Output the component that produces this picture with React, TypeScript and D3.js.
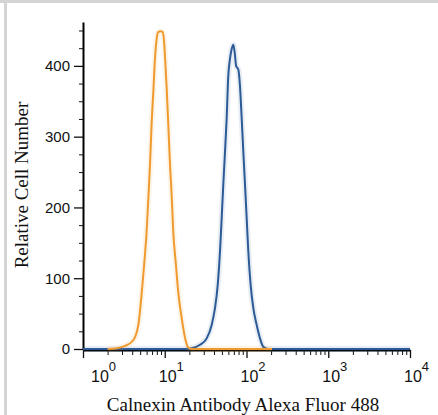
import { useEffect, useRef } from 'react';
import * as d3 from 'd3';

// Isotype control (orange) and Calnexin-stained (blue) histograms
const controlX = [2.0, 2.6, 3.2, 4.1, 4.75, 5.2, 5.6, 6.0, 6.3, 6.6, 6.9, 7.25, 7.6, 8.0, 8.35, 8.9, 9.4, 9.8, 10.1, 10.6, 11.05, 11.6, 12.2, 12.7, 13.7, 14.6, 16.1, 17.7, 19.4, 21.5, 205];
const controlY = [0, 1, 4, 12, 34, 76, 119, 166, 213, 260, 317, 364, 411, 440, 448, 449, 448, 435, 411, 364, 317, 260, 213, 166, 119, 81, 44, 16, 2, 0, 0];

const stainedX = [1, 17.7, 21.4, 27.0, 32.6, 37.5, 41.2, 44.4, 47.4, 49.7, 52.0, 54.6, 57.2, 59.8, 62.8, 65.6, 69.0, 72.3, 74.7, 79.4, 83.2, 87.3, 91.4, 95.9, 100.5, 105.2, 112.5, 121.1, 133.3, 146.3, 160.6, 184.8, 10000];
const stainedY = [0, 0, 1, 6, 15, 34, 58, 90, 138, 185, 232, 279, 326, 385, 410, 423, 430, 415, 400, 395, 372, 326, 279, 232, 185, 138, 90, 58, 34, 15, 3, 0, 0];

const yMajor = [0, 100, 200, 300, 400];
const xDecades = [1, 10, 100, 1000, 10000];
const xExponents = ['0', '1', '2', '3', '4'];

const xTitle = 'Calnexin Antibody Alexa Fluor 488';
const yTitle = 'Relative Cell Number';

const WIDTH = 438;
const HEIGHT = 415;

export default function App() {
  const svgRef = useRef<SVGSVGElement>(null);

  useEffect(() => {
    if (!svgRef.current) return;
    const svg = d3.select(svgRef.current);
    svg.selectAll('*').remove();

    const x = d3.scaleLog().domain([1, 10000]).range([83, 410]);
    const y = d3.scaleLinear().domain([0, 462]).range([349, 22]);

    // gray frame edges
    svg.append('rect').attr('x', 0).attr('y', 0).attr('width', WIDTH).attr('height', 3).attr('fill', '#d4d4d4');
    svg.append('rect').attr('x', 4).attr('y', 0).attr('width', 3).attr('height', HEIGHT).attr('fill', '#d4d4d4');

    // y axis
    const yMinor = d3.range(25, 462, 25).filter(v => v % 100 !== 0);
    const yAxis = svg.append('g').attr('transform', `translate(${x(1)},0)`)
      .call(d3.axisLeft(y).tickValues(yMajor).tickSize(9).tickSizeOuter(0).tickPadding(4));
    svg.append('g').attr('transform', `translate(${x(1)},0)`)
      .call(d3.axisLeft(y).tickValues(yMinor).tickSize(4).tickSizeOuter(0).tickFormat(() => ''))
      .select('.domain').remove();
    yAxis.select('.domain').attr('stroke-width', 2);
    yAxis.selectAll('.tick line').attr('stroke-width', 1.3);
    yAxis.selectAll('.tick text')
      .attr('font-family', 'Liberation Sans, Arial, sans-serif')
      .attr('font-size', 15)
      .attr('fill', '#111');

    // x axis
    const xMinor: number[] = [];
    xDecades.slice(0, -1).forEach(d => {
      for (let m = 2; m <= 9; m++) xMinor.push(d * m);
    });
    const xAxis = svg.append('g').attr('transform', `translate(0,${y(0) + 1})`)
      .call(d3.axisBottom(x).tickValues(xDecades).tickSize(8).tickSizeOuter(0).tickFormat(() => ''));
    svg.append('g').attr('transform', `translate(0,${y(0) + 1})`)
      .call(d3.axisBottom(x).tickValues(xMinor).tickSize(5).tickSizeOuter(0).tickFormat(() => ''))
      .select('.domain').remove();
    xAxis.select('.domain').attr('stroke-width', 2.2);
    xAxis.selectAll('.tick line').attr('stroke-width', 1.3);
    svg.selectAll('.tick line').attr('stroke', '#111');

    // decade labels 10^n
    xDecades.forEach((d, i) => {
      const t = svg.append('text')
        .attr('x', x(d) + (i === 0 ? 8 : -6))
        .attr('y', 382)
        .attr('font-family', 'Liberation Sans, Arial, sans-serif')
        .attr('font-size', 16)
        .attr('fill', '#111');
      t.append('tspan').text('10');
      t.append('tspan').attr('font-size', 13).attr('dy', -11).text(xExponents[i]);
    });

    // histograms
    const line = d3.line<[number, number]>()
      .x(d => x(d[0]))
      .y(d => y(d[1]))
      .curve(d3.curveMonotoneX);

    const series = [
      { xs: stainedX, ys: stainedY, color: '#2b5a96' },
      { xs: controlX, ys: controlY, color: '#ee9a2e' },
    ];
    series.forEach(s => {
      const pts = s.xs.map((v, i) => [v, s.ys[i]] as [number, number]);
      svg.append('path')
        .attr('d', line(pts) || '')
        .attr('fill', 'none')
        .attr('stroke', s.color)
        .attr('stroke-opacity', 0.1)
        .attr('stroke-width', 6);
      svg.append('path')
        .attr('d', line(pts) || '')
        .attr('fill', 'none')
        .attr('stroke', s.color)
        .attr('stroke-width', 2)
        .attr('stroke-linejoin', 'round');
    });

    // titles
    svg.append('text')
      .attr('x', 243)
      .attr('y', 411)
      .attr('text-anchor', 'middle')
      .attr('font-family', 'Liberation Serif, Times New Roman, serif')
      .attr('font-size', 19)
      .attr('fill', '#111')
      .text(xTitle);

    svg.append('text')
      .attr('transform', 'translate(28,185) rotate(-90)')
      .attr('text-anchor', 'middle')
      .attr('font-family', 'Liberation Serif, Times New Roman, serif')
      .attr('font-size', 19)
      .attr('fill', '#111')
      .text(yTitle);
  }, []);

  return (
    <svg
      ref={svgRef}
      width={WIDTH}
      height={HEIGHT}
      style={{ position: 'absolute', left: 0, top: 0, background: '#fff' }}
    />
  );
}
